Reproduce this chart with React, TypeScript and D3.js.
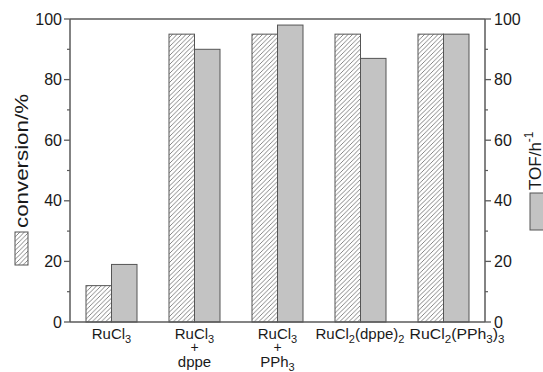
import React from "react";
import * as d3 from "d3";

const categories = ["RuCl3", "RuCl3 + dppe", "RuCl3 + PPh3", "RuCl2(dppe)2", "RuCl2(PPh3)3"];
const conversion = [12, 95, 95, 95, 95];
const tof = [19, 90, 98, 87, 95];
const yTicks = [0, 20, 40, 60, 80, 100];
const yMinorTicks = [10, 30, 50, 70, 90];

const W = 543, H = 372;
const M = { left: 70, right: 485, top: 19, bottom: 322 };
const AXIS = "#5a5a5a";
const TEXT = "#1a1a1a";
const FONT = "Liberation Sans, Arial, sans-serif";

function Label({ idx, x }: { idx: number; x: number }) {
  const fs = 15, sub = 11;
  const S = (t: string) => (
    <tspan fontSize={sub} dy={4}>{t}</tspan>
  );
  const common = { x, textAnchor: "middle" as const, fontSize: fs, fill: TEXT, fontFamily: FONT };
  if (idx === 0) return <text {...common} y={339}>RuCl{S("3")}</text>;
  if (idx === 1 || idx === 2)
    return (
      <g>
        <text {...common} y={339}>RuCl{S("3")}</text>
        <text {...common} y={352} fontSize={14}>+</text>
        <text {...common} y={367}>{idx === 1 ? "dppe" : <>PPh{S("3")}</>}</text>
      </g>
    );
  if (idx === 3)
    return (
      <text {...common} x={x - 45} textAnchor="start" y={339} textLength={89} lengthAdjust="spacingAndGlyphs">
        RuCl{S("2")}<tspan dy={-4}>(dppe)</tspan>{S("2")}
      </text>
    );
  return (
    <text {...common} x={x - 34} textAnchor="start" y={339} textLength={95} lengthAdjust="spacingAndGlyphs">
      RuCl{S("2")}<tspan dy={-4}>(PPh</tspan>{S("3")}<tspan dy={-4}>)</tspan>{S("3")}
    </text>
  );
}

export default function App() {
  const x = d3.scaleBand<number>().domain(d3.range(categories.length)).range([M.left, M.right]).paddingInner(0).paddingOuter(0);
  const bw = 25.5;
  const yL = d3.scaleLinear().domain([0, 100]).range([M.bottom, M.top]);
  const yR = d3.scaleLinear().domain([0, 100]).range([M.bottom, M.top]);

  return (
    <svg width={W} height={H} style={{ position: "absolute", left: 0, top: 0, background: "#fff" }}>
      <defs>
        <pattern id="hatch" patternUnits="userSpaceOnUse" width={4.5} height={4.5}>
          <rect width={4.5} height={4.5} fill="#fff" />
          <path d="M0,4.5 L4.5,0 M-1,1 L1,-1 M3.5,5.5 L5.5,3.5" stroke="#666" strokeWidth={0.8} />
        </pattern>
      </defs>
      <rect width={W} height={H} fill="#fff" />

      {categories.map((c, i) => {
        const cx = (x(i) as number) + x.bandwidth() / 2;
        return (
          <g key={c}>
            <rect x={cx - bw} y={yL(conversion[i])} width={bw} height={yL(0) - yL(conversion[i])} fill="url(#hatch)" stroke="#555" strokeWidth={1} />
            <rect x={cx} y={yR(tof[i])} width={bw} height={yR(0) - yR(tof[i])} fill="#c3c3c3" stroke="#555" strokeWidth={1} />
            <Label idx={i} x={cx} />
          </g>
        );
      })}

      {/* frame */}
      <line x1={M.left} x2={M.right} y1={M.top} y2={M.top} stroke={AXIS} strokeWidth={1.5} />
      <line x1={M.left} x2={M.right} y1={M.bottom} y2={M.bottom} stroke={AXIS} strokeWidth={1.5} />
      <line x1={M.left} x2={M.left} y1={M.top} y2={M.bottom} stroke={AXIS} strokeWidth={1.5} />
      <line x1={M.right} x2={M.right} y1={M.top} y2={M.bottom} stroke={AXIS} strokeWidth={1.5} />

      {yTicks.map((t) => (
        <g key={"t" + t}>
          <line x1={M.left - 6} x2={M.left} y1={yL(t)} y2={yL(t)} stroke={AXIS} strokeWidth={1.3} />
          <text x={62} y={yL(t) + 5.5} textAnchor="end" fontSize={16} fill={TEXT} fontFamily={FONT}>{t}</text>
          <line x1={M.right} x2={M.right + 6} y1={yR(t)} y2={yR(t)} stroke={AXIS} strokeWidth={1.3} />
          <text x={494} y={yR(t) + 5.5} textAnchor="start" fontSize={16} fill={TEXT} fontFamily={FONT}>{t}</text>
        </g>
      ))}
      {yMinorTicks.map((t) => (
        <g key={"m" + t}>
          <line x1={M.left - 3} x2={M.left} y1={yL(t)} y2={yL(t)} stroke={AXIS} strokeWidth={1.2} />
          <line x1={M.right} x2={M.right + 3} y1={yR(t)} y2={yR(t)} stroke={AXIS} strokeWidth={1.2} />
        </g>
      ))}

      {/* left title */}
      <rect x={15} y={232} width={13} height={33} fill="url(#hatch)" stroke="#555" strokeWidth={1} />
      <text transform="translate(28,228) rotate(-90)" fontSize={19} fill={TEXT} fontFamily={FONT} textLength={134} lengthAdjust="spacingAndGlyphs">conversion/%</text>

      {/* right title */}
      <rect x={530} y={193} width={16} height={37} fill="#c3c3c3" stroke="#555" strokeWidth={1} />
      <text transform="translate(541,190) rotate(-90)" fontSize={17} fill={TEXT} fontFamily={FONT}>
        TOF/h<tspan fontSize={12} dy={-8}>-1</tspan>
      </text>
    </svg>
  );
}
